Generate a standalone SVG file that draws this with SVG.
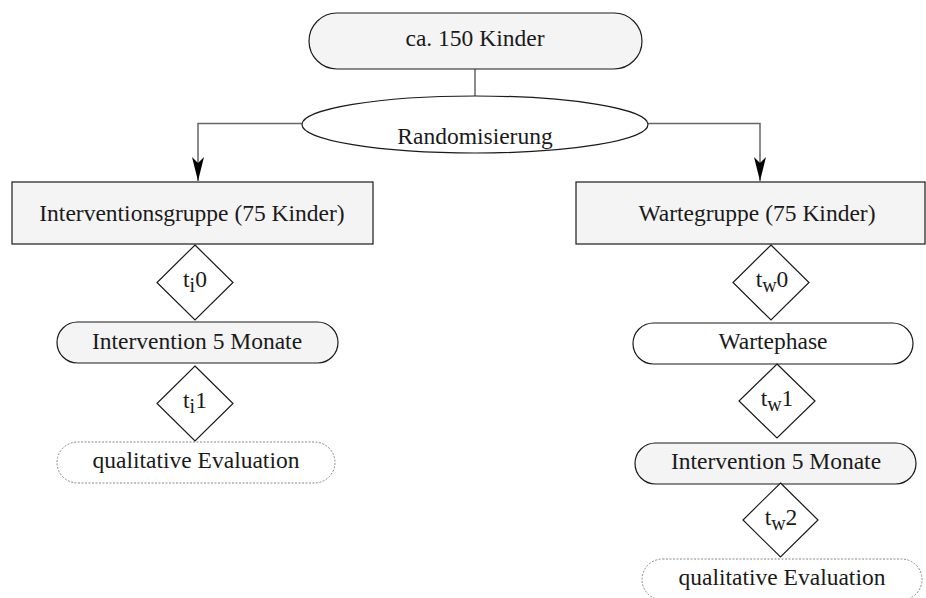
<svg xmlns="http://www.w3.org/2000/svg" width="926" height="598" viewBox="0 0 926 598">
<style>
text{font-family:"Liberation Serif","Times New Roman",serif;font-size:23.5px;fill:#1a1a1a;text-anchor:middle}
.box{fill:#f4f4f4;stroke:#1a1a1a;stroke-width:1.2}
.wbox{fill:#ffffff;stroke:#1a1a1a;stroke-width:1.2}
.dash{fill:#ffffff;stroke:#888;stroke-width:1;stroke-dasharray:2 1.5}
.dia{fill:#ffffff;stroke:#1a1a1a;stroke-width:1.2}
.conn{fill:none;stroke:#666;stroke-width:1.5}
.sub{font-size:20px}
</style>
<defs>
<marker id="arr" markerUnits="userSpaceOnUse" viewBox="0 0 24 12" markerWidth="24" markerHeight="12" refX="24" refY="6" orient="auto">
<path d="M0,0 L24,6 L0,12 L6,6 z" fill="#000"/>
</marker>
</defs>
<g id="connectors">
<line class="conn" x1="475" y1="69" x2="475" y2="96"/>
<path class="conn" d="M302,123.5 H198 V181" marker-end="url(#arr)"/>
<path class="conn" d="M648,123.5 H760 V181" marker-end="url(#arr)"/>
</g>
<g id="start">
<rect class="box" x="309" y="13" width="333" height="56" rx="28"/>
<text x="475" y="46">ca. 150 Kinder</text>
</g>
<g id="randomisierung">
<ellipse class="wbox" cx="475" cy="124.5" rx="173" ry="28.5"/>
<text x="475" y="144">Randomisierung</text>
</g>
<g id="interventionsgruppe">
<rect class="box" x="12" y="182" width="361" height="62"/>
<text x="192" y="221">Interventionsgruppe (75 Kinder)</text>
</g>
<g id="ti0">
<polygon class="dia" points="195,245 233,282.5 195,320 157,282.5"/>
<text x="195" y="287">t<tspan class="sub" dy="5">i</tspan><tspan dy="-5">0</tspan></text>
</g>
<g id="intervention-i">
<rect class="box" x="57" y="322" width="281" height="41" rx="20.5"/>
<text x="197" y="349">Intervention 5 Monate</text>
</g>
<g id="ti1">
<polygon class="dia" points="195,366 233,403.5 195,441 157,403.5"/>
<text x="195" y="408">t<tspan class="sub" dy="5">i</tspan><tspan dy="-5">1</tspan></text>
</g>
<g id="eval-i">
<rect class="dash" x="57" y="442" width="278" height="41" rx="20.5"/>
<text x="196" y="468">qualitative Evaluation</text>
</g>
<g id="wartegruppe">
<rect class="box" x="576" y="182" width="349" height="62"/>
<text x="757" y="221">Wartegruppe (75 Kinder)</text>
</g>
<g id="tw0">
<polygon class="dia" points="771,245 809,282.5 771,320 733,282.5"/>
<text x="772" y="287">t<tspan class="sub" dy="5">w</tspan><tspan dy="-5">0</tspan></text>
</g>
<g id="wartephase">
<rect class="wbox" x="633" y="323" width="280" height="41" rx="20.5"/>
<text x="773" y="349">Wartephase</text>
</g>
<g id="tw1">
<polygon class="dia" points="777,364 815,401 777,438 739,401"/>
<text x="777" y="406">t<tspan class="sub" dy="5">w</tspan><tspan dy="-5">1</tspan></text>
</g>
<g id="intervention-w">
<rect class="box" x="635" y="443" width="281" height="41" rx="20.5"/>
<text x="776" y="469">Intervention 5 Monate</text>
</g>
<g id="tw2">
<polygon class="dia" points="780.5,483 818,520 780.5,557 743,520"/>
<text x="781" y="525">t<tspan class="sub" dy="5">w</tspan><tspan dy="-5">2</tspan></text>
</g>
<g id="eval-w">
<rect class="dash" x="642" y="559" width="280" height="41" rx="20.5"/>
<text x="782" y="585">qualitative Evaluation</text>
</g>
</svg>
